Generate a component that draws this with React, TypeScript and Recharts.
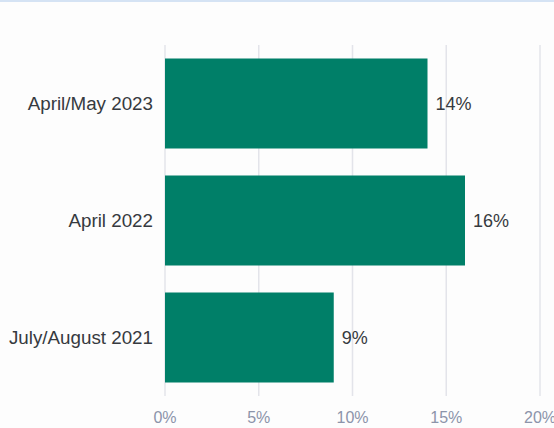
import React from 'react';
import { BarChart, Bar, XAxis, YAxis, CartesianGrid, LabelList } from 'recharts';

const periods = ['April/May 2023', 'April 2022', 'July/August 2021'];
const shares = [14, 16, 9];
const xTicks = [0, 5, 10, 15, 20];

const data = periods.map((period, i) => ({ period, share: shares[i] }));

const colors = {
  bar: '#007f68',
  grid: '#e3e4ea',
  label: '#363a40',
  axis: '#8c94aa',
};

export default function App() {
  return (
    <div
      style={{
        position: 'absolute',
        left: 0,
        top: 0,
        width: 554,
        height: 428,
        background: '#fdfdfd',
        borderTop: '2px solid #d5e3f4',
        boxSizing: 'border-box',
        fontFamily: '"Liberation Sans", Arial, sans-serif',
      }}
    >
      <BarChart
        width={554}
        height={426}
        data={data}
        layout="vertical"
        margin={{ top: 43, right: 14, bottom: 2, left: 0 }}
        barCategoryGap="11.5%"
      >
        <CartesianGrid horizontal={false} stroke={colors.grid} strokeWidth={1.5} />
        <XAxis
          type="number"
          domain={[0, 20]}
          ticks={xTicks}
          tickFormatter={(v) => `${v}%`}
          axisLine={false}
          tickLine={false}
          tickSize={0}
          tickMargin={16}
          height={30}
          interval={0}
          tick={{ fill: colors.axis, fontSize: 16 }}
        />
        <YAxis
          type="category"
          dataKey="period"
          width={165}
          axisLine={false}
          tickLine={false}
          tickSize={0}
          tickMargin={12}
          tick={{ fill: colors.label, fontSize: 18.8 }}
        />
        <Bar dataKey="share" fill={colors.bar} isAnimationActive={false}>
          <LabelList
            dataKey="share"
            position="right"
            offset={8}
            formatter={(v: any) => `${v}%`}
            style={{ fill: colors.label, fontSize: 18 }}
          />
        </Bar>
      </BarChart>
    </div>
  );
}
